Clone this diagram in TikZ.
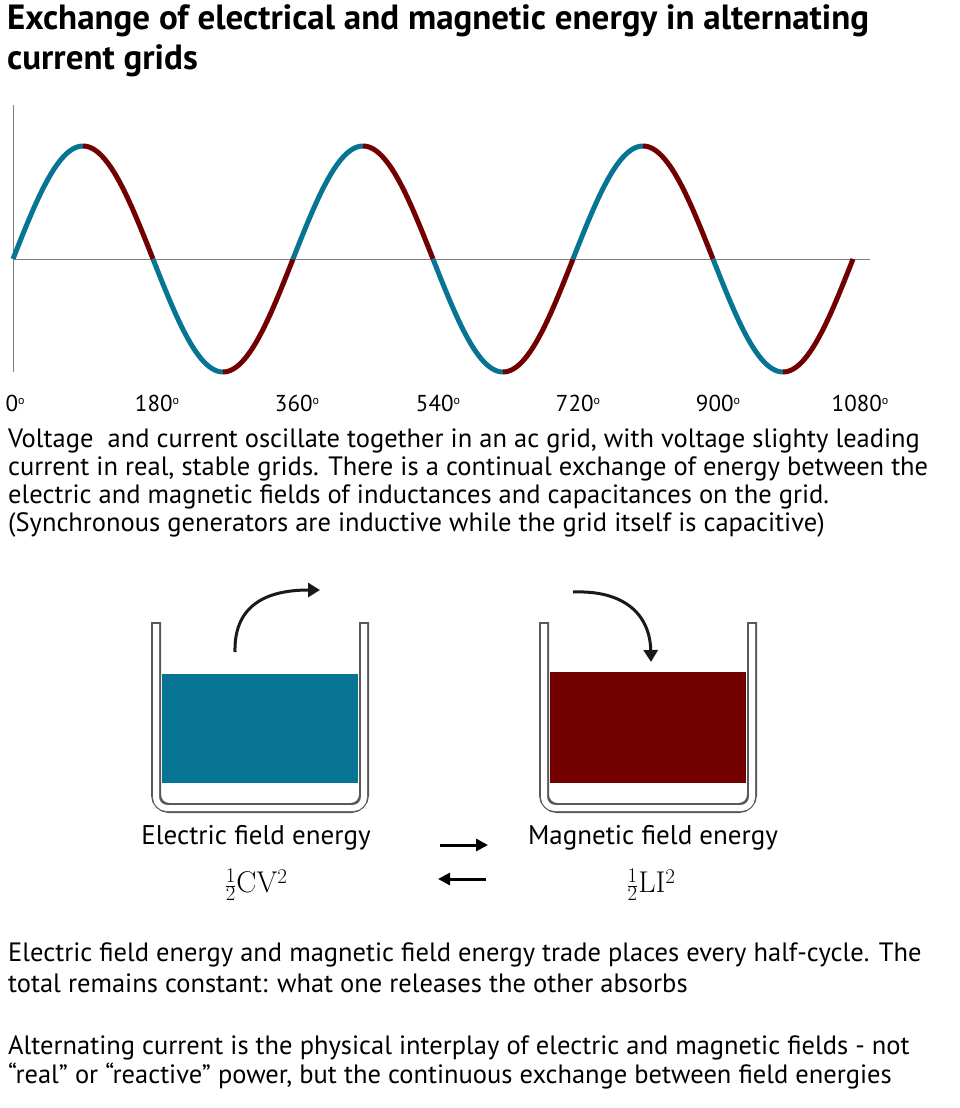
\documentclass[tikz,border=0pt]{standalone}
\usepackage{fontspec}
\setmainfont{PT Sans}
\newfontfamily\lmfont{Latin Modern Roman}
\usetikzlibrary{arrows.meta}
\definecolor{fieldblue}{HTML}{077493}
\definecolor{fieldred}{HTML}{720000}
\tikzset{
  txt/.style={anchor=west, inner sep=0pt, font=\fontsize{26.5}{28}\selectfont},
  deg/.style={inner sep=0pt, font=\fontsize{23}{24}\selectfont},
  wall/.style={draw=gray!70!black, line width=10pt, rounded corners=13pt},
  wallin/.style={draw=white, line width=6pt, rounded corners=11pt},
  flow/.style={-{Triangle[length=12pt,width=14pt]}, line width=3pt, black!90},
  swap/.style={-{Triangle[length=12pt,width=12pt]}, line width=3pt},
}
\newcommand{\dg}[1]{#1\raisebox{0.55ex}{\fontsize{12}{12}\selectfont o}}
\begin{document}
\begin{tikzpicture}[x=1pt,y=-1pt]
  \useasboundingbox (0,0) rectangle (959,1108);
  % title
  \node[anchor=north west, inner sep=0pt, align=left,
        font=\fontsize{35}{40}\selectfont\bfseries] (title) at (7,4)
        {Exchange of electrical and magnetic energy in alternating\\current grids};
  % axes
  \draw[gray, line width=1pt] (13,105) -- (13,372);
  \draw[gray, line width=1pt] (13,259) -- (870,259);
  % wave, quarter cycles alternating in colour
  \foreach \i in {0,...,11}{
    \pgfmathsetmacro{\a}{\i*90}
    \pgfmathsetmacro{\b}{\i*90+90}
    \pgfmathtruncatemacro{\odd}{mod(\i,2)}
    \ifnum\odd=0 \def\wc{fieldblue}\else\def\wc{fieldred}\fi
    \draw[\wc, line width=5pt, domain=\a:\b, samples=30, smooth]
      plot ({13+\x*0.77778}, {259-113*sin(\x)});
  }
  % degree labels
  \node[deg] (d0) at (15,403) {\dg{0}};
  \node[deg] (d180) at (157,403) {\dg{180}};
  \node[deg] (d360) at (297,403) {\dg{360}};
  \node[deg] (d540) at (438,403) {\dg{540}};
  \node[deg] (d720) at (578,403) {\dg{720}};
  \node[deg] (d900) at (718,403) {\dg{900}};
  \node[deg] (d1080) at (860,403) {\dg{1080}};
  % caption
  \node[txt] (cap1) at (8,441) {Voltage\ \ and current oscillate together in an ac grid, with voltage slighty leading};
  \node[txt] (cap2) at (8,469) {current in real, stable grids. There is a continual exchange of energy between the};
  \node[txt] (cap3) at (8,497) {electric and magnetic fields of inductances and capacitances on the grid.};
  \node[txt] (cap4) at (8,525) {(Synchronous generators are inductive while the grid itself is capacitive)};
  % beakers
  \foreach \bx in {156,544}{
    \draw[wall] (\bx,622) -- (\bx,808) -- (\bx+208,808) -- (\bx+208,622);
    \draw[wallin] (\bx,624) -- (\bx,808) -- (\bx+208,808) -- (\bx+208,624);
  }
  \fill[fieldblue] (162,674) rectangle (358,783);
  \fill[fieldred] (550,672) rectangle (746,783);
  \coordinate (lfrom) at (235,652);
  \coordinate (lto) at (320,590);
  \coordinate (rfrom) at (573,592);
  \coordinate (rto) at (651,662);
  \draw[flow] (lfrom) .. controls (234,610) and (260,590) .. (lto);
  \draw[flow] (rfrom) .. controls (625,590) and (650,615) .. (rto);
  % labels
  \node[font=\fontsize{27}{28}\selectfont] (elec) at (256,838) {Electric field energy};
  \node[font=\fontsize{27}{28}\selectfont] (magn) at (653,838) {Magnetic field energy};
  \node[font=\fontsize{30}{32}\selectfont\lmfont] (ce) at (256,885) {$\frac{1}{2}$CV\textsuperscript{2}};
  \node[font=\fontsize{30}{32}\selectfont\lmfont] (le) at (651,885) {$\frac{1}{2}$LI\textsuperscript{2}};
  \coordinate (s1) at (440,845);
  \coordinate (s2) at (488,845);
  \coordinate (s3) at (486,879);
  \coordinate (s4) at (438,879);
  \draw[swap] (s1) -- (s2);
  \draw[swap] (s3) -- (s4);
  % bottom text
  \node[txt] (b1) at (8,955) {Electric field energy and magnetic field energy trade places every half-cycle. The};
  \node[txt] (b2) at (8,983) {total remains constant: what one releases the other absorbs};
  \node[txt] (b3) at (8,1048) {Alternating current is the physical interplay of electric and magnetic fields - not};
  \node[txt] (b4) at (8,1076) {“real” or “reactive” power, but the continuous exchange between field energies};
\end{tikzpicture}
\end{document}
